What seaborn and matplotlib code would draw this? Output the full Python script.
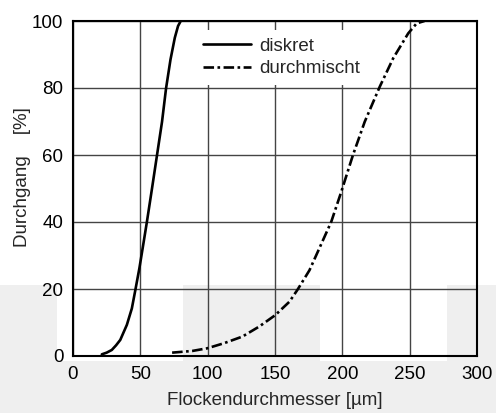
import matplotlib
matplotlib.use("Agg")
import matplotlib.pyplot as plt
from matplotlib.patches import Rectangle
import seaborn as sns
import pandas as pd

# data
diskret_x = [21.4, 25, 28.8, 32, 35.1, 40, 43.7, 46.3, 49.3, 52.5, 54.9, 58.7, 62.4, 66.1, 69.1, 72.4, 75.6, 78, 80]
diskret_y = [0.5, 1, 1.8, 3.2, 4.8, 9.3, 14.2, 19.7, 26.2, 34.1, 40.1, 50.1, 60, 69.9, 79.9, 88.5, 95, 98.5, 100]
misch_x = [73.6, 88.5, 99.7, 112, 125.8, 138.3, 150.2, 160.7, 166.9, 175.6, 183.1, 191.8, 199.2,
           207.9, 216.6, 227.8, 237.8, 248.9, 255.2, 261]
misch_y = [1, 1.5, 2.3, 3.8, 5.8, 8.8, 12.2, 16.2, 19.9, 25.6, 32.3, 40.1, 49,
           60, 69.9, 80.4, 88.9, 96.3, 99.3, 100]
x_ticks = [0, 50, 100, 150, 200, 250, 300]
y_ticks = [0, 20, 40, 60, 80, 100]

sns.set_style("white")
plt.rcParams["font.family"] = ["Liberation Sans", "DejaVu Sans"]

W, H = 496, 413
fig = plt.figure(figsize=(W / 100, H / 100), dpi=100)
ax = fig.add_axes([73 / W, 1 - 356 / H, (477 - 73) / W, (356 - 21) / H])
ax.set_facecolor("none")

# grey scan background at the bottom
def px_rect(x0, y0, x1, y1, color):
    fig.patches.append(Rectangle((x0 / W, 1 - y1 / H), (x1 - x0) / W, (y1 - y0) / H,
                                 transform=fig.transFigure, color=color, zorder=-2, lw=0))

px_rect(0, 285, W, H, "#efefef")
px_rect(57, 285, 183, 361, "white")
px_rect(320, 285, 447, 361, "white")

d1 = pd.DataFrame({"x": diskret_x, "y": diskret_y})
d2 = pd.DataFrame({"x": misch_x, "y": misch_y})
sns.lineplot(data=d1, x="x", y="y", ax=ax, color="black", lw=1.9, label="diskret",
             sort=False, zorder=3)
sns.lineplot(data=d2, x="x", y="y", ax=ax, color="black", lw=1.9, label="durchmischt",
             sort=False, zorder=3, linestyle=(0, (4, 1.3, 1, 1.3)))

ax.set_xlim(0, 300)
ax.set_ylim(0, 100)
ax.set_xticks(x_ticks)
ax.set_yticks(y_ticks)
ax.grid(True, color="#444444", lw=1)
for s in ax.spines.values():
    s.set_color("black")
    s.set_linewidth(1.5)
ax.tick_params(length=0, labelsize=13.5, colors="black", pad=7)
ax.set_xlabel("Flockendurchmesser [µm]", fontsize=13.5)
ax.set_ylabel("Durchgang    [%]", fontsize=13.5)
ax.xaxis.set_label_coords(0.5, -0.108)
ax.yaxis.set_label_coords(-0.105, 0.535)

leg = ax.legend(loc="upper left", bbox_to_anchor=(0.302, 0.973), frameon=True, fontsize=13.5,
                handlelength=2.6, handletextpad=0.45, borderpad=0.4, labelspacing=0.3,
                borderaxespad=0)
leg.get_frame().set_edgecolor("none")
leg.get_frame().set_facecolor("white")
leg.get_frame().set_alpha(1)
leg.get_frame().set_boxstyle("square", pad=0)

fig.savefig("out.png", dpi=100)
